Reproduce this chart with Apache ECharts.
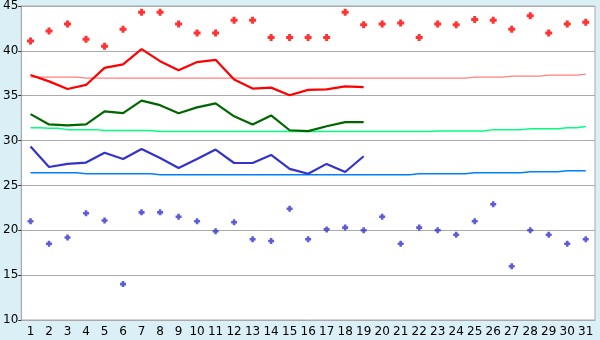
<!DOCTYPE html>
<html><head><meta charset="utf-8">
<script src="https://cdn.jsdelivr.net/npm/echarts@6/dist/echarts.min.js"></script>
<style>html,body{margin:0;padding:0;background:#daf0f6;}#c{width:600px;height:340px;}</style>
</head><body><div id="c"></div>
<script>
var days = ['1','2','3','4','5','6','7','8','9','10','11','12','13','14','15','16','17','18','19','20','21','22','23','24','25','26','27','28','29','30','31'];
var yTicks = [10,15,20,25,30,35,40,45];
var highPts = [41.1,42.2,43.0,41.3,40.5,42.4,44.3,44.3,43.0,42.0,42.0,43.4,43.4,41.5,41.5,41.5,41.5,44.3,42.9,43.0,43.1,41.5,43.0,42.9,43.5,43.4,42.4,43.9,42.0,43.0,43.2];
var lowPts = [21.0,18.5,19.2,21.9,21.1,14.0,22.0,22.0,21.5,21.0,19.9,20.9,19.0,18.8,22.4,19.0,20.1,20.3,20.0,21.5,18.5,20.3,20.0,19.5,21.0,22.9,16.0,20.0,19.5,18.5,19.0];
var redLine = [37.3,36.6,35.75,36.2,38.1,38.5,40.2,38.85,37.85,38.75,39.0,36.8,35.8,35.9,35.05,35.65,35.7,36.05,35.95];
var greenLine = [32.95,31.8,31.7,31.8,33.25,33.05,34.45,33.95,33.05,33.7,34.15,32.7,31.8,32.8,31.15,31.05,31.6,32.05,32.05];
var blueLine = [29.35,27.05,27.4,27.55,28.65,27.95,29.05,28.05,26.95,27.95,29.0,27.5,27.5,28.4,26.85,26.3,27.4,26.5,28.25];
var redNorm = [37.07,37.07,37.07,36.96,36.96,36.96,36.96,36.96,36.96,36.96,36.96,36.96,36.96,36.96,36.96,36.96,36.96,36.96,36.96,36.96,36.96,36.96,36.96,36.96,37.07,37.07,37.19,37.19,37.3,37.3,37.41];
var greenNorm = [31.44,31.37,31.22,31.22,31.11,31.11,31.11,31.0,31.0,31.0,31.0,31.0,31.0,31.0,31.0,31.0,31.0,31.0,31.0,31.0,31.0,31.0,31.07,31.07,31.07,31.22,31.22,31.33,31.33,31.44,31.56];
var blueNorm = [26.41,26.41,26.41,26.3,26.3,26.3,26.3,26.19,26.19,26.19,26.19,26.19,26.19,26.19,26.19,26.19,26.19,26.19,26.19,26.19,26.19,26.3,26.3,26.3,26.41,26.41,26.41,26.52,26.52,26.63,26.63];

var plus = 'path://M2,0H5V2H7V5H5V7H2V5H0V2H2Z';
var chart = echarts.init(document.getElementById('c'), null, {renderer:'canvas'});
function line(data, color, w, step, z){
  return {type:'line', data:data, step:step||false, symbol:'none', z:z||2, silent:true, animation:false,
    lineStyle:{color:color, width:w}};
}
chart.setOption({
  backgroundColor:'#daf0f6',
  animation:false,
  grid:{left:20, right:5, top:5, bottom:20, show:true, backgroundColor:'#ffffff', borderColor:'#aaaaaa', borderWidth:1},
  xAxis:{type:'category', data:days, boundaryGap:true,
    axisLine:{lineStyle:{color:'#aaaaaa'}},
    axisTick:{alignWithLabel:true, length:5, lineStyle:{color:'#333'}},
    axisLabel:{color:'#000', fontFamily:'DejaVu Sans', fontSize:12, margin:6, interval:0},
    splitLine:{show:false}},
  yAxis:{type:'value', min:yTicks[0], max:yTicks[yTicks.length-1], interval:5,
    axisLine:{show:true, lineStyle:{color:'#aaaaaa'}},
    axisTick:{show:true, length:3, lineStyle:{color:'#333'}},
    axisLabel:{color:'#000', fontFamily:'DejaVu Sans', fontSize:12, margin:3},
    splitLine:{lineStyle:{color:'#aaaaaa'}}},
  series:[
    line(redNorm,'#ff8080',1.2,'middle',1),
    line(greenNorm,'#00ff80',1.5,'middle',1),
    line(blueNorm,'#0080ff',1.5,'middle',1),
    line(redLine,'#ff0000',2.2,false,2),
    line(greenLine,'#006600',2.2,false,2),
    line(blueLine,'#3333cc',2.2,false,2),
    {type:'scatter', data:highPts, symbol:plus, symbolSize:7, itemStyle:{color:'#ff0000'}, z:3},
    {type:'scatter', data:lowPts, symbol:plus, symbolSize:6, itemStyle:{color:'#3333cc'}, z:3}
  ]
});
</script></body></html>
